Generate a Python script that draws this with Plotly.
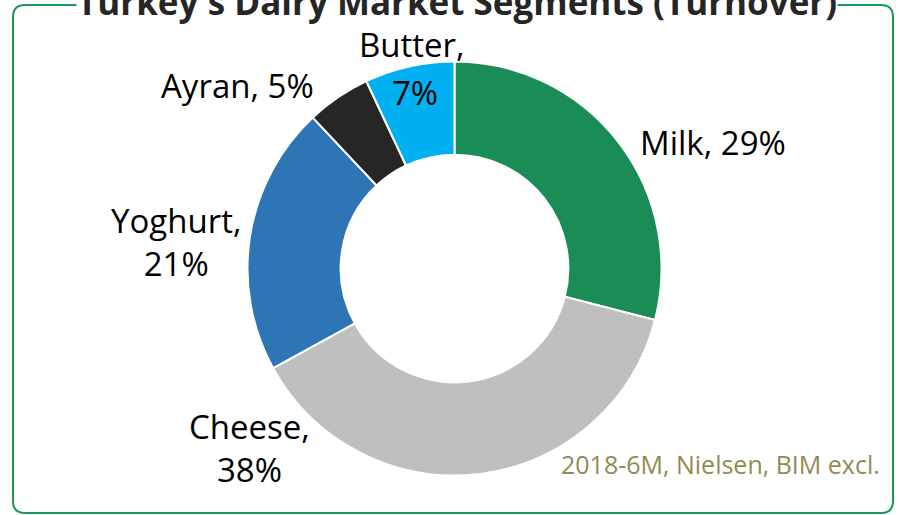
import plotly.graph_objects as go
import re

W, H = 899, 515
categories = ["Milk", "Cheese", "Yoghurt", "Ayran", "Butter"]
values = [29, 38, 21, 5, 7]
colors = ["#1a8c55", "#bfbfbf", "#2e75b6", "#262626", "#00b0f0"]
title = "Turkey's Dairy Market Segments (Turnover)"
source = "2018-6M, Nielsen, BIM excl."

cx, cy, R = 454.5, 268.5, 207

def px(x):
    return x / W

def py(y):
    return 1 - y / H

fig = go.Figure(go.Pie(
    labels=categories, values=values, sort=False, direction="clockwise", rotation=0,
    hole=0.55, textinfo="none", hoverinfo="label+percent",
    marker=dict(colors=colors, line=dict(color="white", width=2)),
    domain=dict(x=[px(cx - R), px(cx + R)], y=[py(cy + R), py(cy - R)]),
    showlegend=False,
))

FONT = "Open Sans, Calibri, sans-serif"
lab_font = dict(family=FONT, size=33, color="black")

# label placements (pixel positions of text centres)
label_pos = {
    "Milk": [(713, 143, "{n}, {v}%")],
    "Cheese": [(250, 447.5, "{n},<br>{v}%")],
    "Yoghurt": [(176, 242, "{n},<br>{v}%")],
    "Ayran": [(237, 85, "{n}, {v}%")],
    "Butter": [(412, 45, "{n},"), (415, 92, "{v}%")],
}
annotations = []
for n, v in zip(categories, values):
    for (x, y, fmt) in label_pos[n]:
        annotations.append(dict(x=px(x), y=py(y), xref="paper", yref="paper",
                                text=fmt.format(n=n, v=v), showarrow=False,
                                xanchor="center", yanchor="middle", align="center",
                                font=lab_font))

annotations.append(dict(x=px(457), y=py(2), xref="paper", yref="paper", text="<b>" + title + "</b>",
                        showarrow=False, xanchor="center", yanchor="middle", bgcolor="white",
                        borderpad=0, font=dict(family=FONT, size=35, color="#262626")))
annotations.append(dict(x=px(882), y=py(463.5), xref="paper", yref="paper", text=source,
                        showarrow=False, xanchor="right", yanchor="middle",
                        font=dict(family=FONT, size=25, color="#948a54")))

# rounded border
x0, y0, x1, y1, r = 13, 5, 893, 513, 12
path = (f"M {x0+r},{y0} L {x1-r},{y0} Q {x1},{y0} {x1},{y0+r} L {x1},{y1-r} Q {x1},{y1} {x1-r},{y1} "
        f"L {x0+r},{y1} Q {x0},{y1} {x0},{y1-r} L {x0},{y0+r} Q {x0},{y0} {x0+r},{y0} Z")

def conv(m):
    a, b = float(m.group(1)), float(m.group(2))
    return f"{px(a):.5f},{py(b):.5f}"
path = re.sub(r"(-?[\d.]+),(-?[\d.]+)", conv, path)

fig.update_layout(
    width=W, height=H, margin=dict(l=0, r=0, t=0, b=0),
    paper_bgcolor="white", plot_bgcolor="white",
    shapes=[dict(type="path", path=path, xref="paper", yref="paper",
                 line=dict(color="#1a9a5a", width=2), layer="below")],
    annotations=annotations,
)
fig.write_html("out.html")
